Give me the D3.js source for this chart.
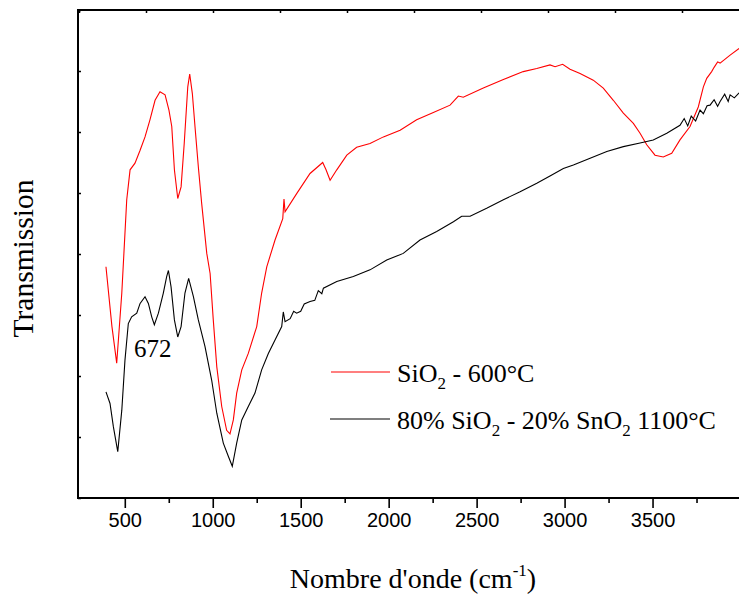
<!DOCTYPE html>
<html>
<head>
<meta charset="utf-8">
<script src="https://cdn.jsdelivr.net/npm/d3@7"></script>
<style>
  html, body { margin: 0; padding: 0; background: #fff; }
  svg { display: block; }
</style>
</head>
<body>
<svg id="chart" width="739" height="596"></svg>
<script>
// ---- data ----
// wavenumber (cm-1) and transmission (arbitrary units) for SiO2 - 600°C
const redWave = [393, 427, 454, 483, 511, 530, 558, 587, 615, 643, 672, 700, 729, 751, 767, 782, 801, 820, 838, 858, 869, 884, 899, 918, 937, 966, 985, 1003, 1023, 1051, 1079, 1098, 1117, 1136, 1165, 1202, 1250, 1278, 1307, 1354, 1398, 1405, 1411, 1477, 1553, 1625, 1644, 1667, 1705, 1762, 1818, 1894, 1970, 2065, 2159, 2254, 2349, 2396, 2424, 2538, 2652, 2765, 2842, 2917, 2946, 2989, 3031, 3088, 3163, 3220, 3277, 3334, 3391, 3429, 3467, 3514, 3561, 3609, 3656, 3713, 3760, 3789, 3808, 3836, 3850, 3870, 3884, 3941, 3992];
const redTrans = [37.9, 28.1, 22.1, 33.6, 48.9, 53.8, 54.9, 57.0, 59.2, 62.0, 65.2, 66.6, 66.1, 63.6, 60.9, 53.8, 49.1, 51.0, 58.2, 67.4, 69.5, 66.3, 60.9, 54.3, 48.3, 40.1, 36.8, 29.2, 21.5, 15.0, 11.1, 10.5, 12.8, 17.2, 21.0, 23.7, 28.1, 33.6, 37.9, 42.3, 45.8, 49.0, 46.9, 49.9, 53.2, 55.0, 53.8, 52.1, 53.8, 56.2, 57.5, 58.1, 59.2, 60.3, 62.0, 63.2, 64.4, 65.9, 65.7, 67.2, 68.6, 69.9, 70.4, 71.0, 70.7, 71.1, 70.3, 69.6, 68.5, 67.2, 65.2, 63.1, 61.4, 59.8, 57.9, 56.2, 55.9, 56.5, 58.7, 60.9, 64.1, 67.4, 68.8, 69.9, 70.6, 71.5, 71.3, 72.6, 73.7];

// 80% SiO2 - 20% SnO2 1100°C
const blackWave = [393, 416, 435, 460, 483, 501, 520, 539, 568, 587, 615, 634, 653, 668, 691, 719, 738, 748, 763, 782, 801, 820, 842, 863, 890, 918, 956, 994, 1023, 1060, 1089, 1111, 1136, 1165, 1202, 1240, 1278, 1316, 1354, 1392, 1401, 1411, 1440, 1460, 1477, 1500, 1520, 1553, 1580, 1600, 1620, 1629, 1705, 1799, 1894, 1989, 2083, 2178, 2273, 2368, 2415, 2463, 2557, 2652, 2747, 2842, 2917, 2993, 3050, 3145, 3240, 3334, 3429, 3504, 3581, 3656, 3680, 3700, 3720, 3745, 3770, 3789, 3810, 3827, 3850, 3870, 3884, 3910, 3930, 3941, 3965, 3992];
const blackTrans = [17.4, 15.5, 11.7, 7.6, 14.4, 22.6, 28.6, 29.7, 30.3, 31.9, 33.0, 31.9, 29.7, 28.4, 30.3, 33.6, 36.3, 37.3, 34.6, 29.2, 26.4, 28.1, 33.6, 36.0, 33.0, 29.2, 24.8, 19.3, 13.9, 9.0, 6.8, 5.2, 9.0, 12.8, 15.0, 17.2, 21.0, 23.7, 25.9, 28.1, 30.5, 28.9, 29.4, 30.6, 30.3, 30.6, 31.8, 32.2, 32.4, 34.0, 33.5, 34.4, 35.5, 36.3, 37.4, 39.0, 40.1, 42.3, 43.7, 45.3, 46.2, 46.2, 47.5, 48.9, 50.2, 51.6, 52.8, 54.0, 54.6, 55.7, 56.8, 57.6, 58.2, 58.7, 59.8, 61.1, 62.2, 61.0, 62.6, 61.8, 63.6, 63.0, 64.3, 64.4, 65.3, 64.2, 65.0, 66.2, 65.0, 66.1, 65.6, 66.4];

const xMajorTicks = [500, 1000, 1500, 2000, 2500, 3000, 3500];
const xMinorTicks = [750, 1250, 1750, 2250, 2750, 3250, 3750];
const yTicks = [0, 10, 20, 30, 40, 50, 60, 70, 80];
const topTicks = [0, 1, 2, 3, 4, 5, 6, 7, 8, 9];

const peakLabel = { text: "672" };

// ---- layout ----
const svg = d3.select("#chart");
const L = 78, R = 740.5, T = 10, B = 498;

const x = d3.scaleLinear().domain([234, 4000]).range([L, R]);
const y = d3.scaleLinear().domain([0, 80]).range([B, T]);
const xTop = d3.scaleLinear().domain([0, 10]).range([79, 749]);

const serif = "'Liberation Serif', 'Times New Roman', serif";
const sans = "'Liberation Sans', Arial, sans-serif";

// curves
const line = d3.line().x(d => x(d[0])).y(d => y(d[1]));
const redData = redWave.map((w, i) => [w, redTrans[i]]);
const blackData = blackWave.map((w, i) => [w, blackTrans[i]]);

svg.append("path").datum(redData)
  .attr("d", line).attr("fill", "none").attr("stroke", "#ff0000").attr("stroke-width", 1.1);
svg.append("path").datum(blackData)
  .attr("d", line).attr("fill", "none").attr("stroke", "#000").attr("stroke-width", 1.1);

// frame lines
svg.append("line").attr("x1", L).attr("x2", 739).attr("y1", T).attr("y2", T)
  .attr("stroke", "#000").attr("stroke-width", 2);
svg.append("line").attr("x1", L).attr("x2", L).attr("y1", T - 1).attr("y2", B + 1)
  .attr("stroke", "#000").attr("stroke-width", 2);

// bottom axis: major
const gB = svg.append("g").attr("transform", `translate(0,${B})`)
  .call(d3.axisBottom(x).tickValues(xMajorTicks).tickSize(10).tickSizeOuter(0).tickFormat(d3.format("d")));
gB.select(".domain").attr("stroke-width", 2).attr("d", `M${L},0H739`);
gB.selectAll(".tick line").attr("stroke-width", 1.6);
gB.selectAll(".tick text").attr("font-family", sans).attr("font-size", 20).attr("fill", "#000").attr("dy", "0.71em").attr("y", 15);

// bottom axis: minor
const gBm = svg.append("g").attr("transform", `translate(0,${B})`)
  .call(d3.axisBottom(x).tickValues(xMinorTicks).tickSize(5).tickFormat(""));
gBm.select(".domain").remove();
gBm.selectAll(".tick line").attr("stroke-width", 1.6);

// left axis ticks (inward)
const gL = svg.append("g").attr("transform", `translate(${L},0)`)
  .call(d3.axisLeft(y).tickValues(yTicks).tickSize(-3).tickFormat(""));
gL.select(".domain").remove();
gL.selectAll(".tick line").attr("stroke-width", 1.5);

// top ticks (inward)
const gT = svg.append("g").attr("transform", `translate(0,${T})`)
  .call(d3.axisTop(xTop).tickValues(topTicks).tickSize(-3).tickFormat(""));
gT.select(".domain").remove();
gT.selectAll(".tick line").attr("stroke-width", 1.5);

// axis titles
const xt = svg.append("text").attr("x", 413).attr("y", 588).attr("text-anchor", "middle")
  .attr("font-family", serif).attr("font-size", 28).attr("fill", "#000");
xt.append("tspan").text("Nombre d'onde (cm");
xt.append("tspan").attr("font-size", 17).attr("dy", -12).text("-1");
xt.append("tspan").attr("dy", 12).text(")");

svg.append("text").attr("transform", "translate(33,258.5) rotate(-90)")
  .attr("text-anchor", "middle").attr("font-family", serif).attr("font-size", 29.5)
  .attr("fill", "#000").text("Transmission");

// peak label
svg.append("text").attr("x", 134).attr("y", 357).attr("font-family", serif)
  .attr("font-size", 25).attr("fill", "#000").text(peakLabel.text);

// legend
function subText(g, xx, yy, parts) {
  const t = g.append("text").attr("x", xx).attr("y", yy).attr("font-family", serif)
    .attr("font-size", 26).attr("fill", "#000");
  parts.forEach(p => {
    if (p.sub) {
      t.append("tspan").attr("font-size", 17).attr("dy", 7).text(p.t);
    } else {
      t.append("tspan").attr("dy", p.after ? -7 : 0).text(p.t);
    }
  });
}
const lg = svg.append("g");
lg.append("line").attr("x1", 331).attr("x2", 390).attr("y1", 372).attr("y2", 372)
  .attr("stroke", "#ff0000").attr("stroke-width", 1.1);
subText(lg, 397, 382, [{t: "SiO"}, {t: "2", sub: true}, {t: " - 600°C", after: true}]);
lg.append("line").attr("x1", 330).attr("x2", 390).attr("y1", 419).attr("y2", 419)
  .attr("stroke", "#000").attr("stroke-width", 1.1);
subText(lg, 397, 429, [{t: "80% SiO"}, {t: "2", sub: true}, {t: " - 20% SnO", after: true}, {t: "2", sub: true}, {t: " 1100°C", after: true}]);
</script>
</body>
</html>
